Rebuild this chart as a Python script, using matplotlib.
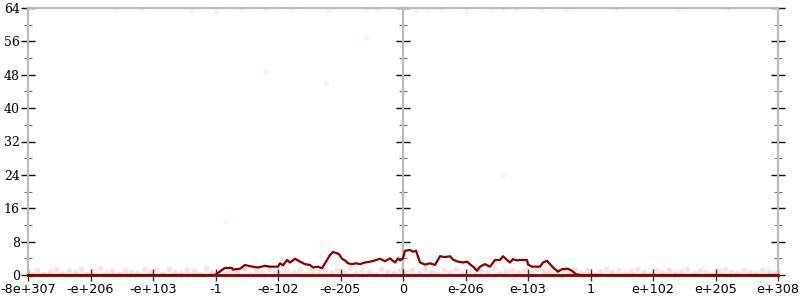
import matplotlib
matplotlib.use("Agg")
import matplotlib.pyplot as plt

# ---- data ----
tick_labels = ["-8e+307", "-e+206", "-e+103", "-1", "-e-102", "-e-205", "0",
               "e-206", "e-103", "1", "e+102", "e+205", "e+308"]
tick_pos = list(range(-6, 7))

line_u = [-6.0, -3.008, -2.896, -2.848, -2.736, -2.72, -2.608, -2.528, -2.448, -2.32,
          -2.208, -2.128, -2.0, -1.968, -1.92, -1.856, -1.808, -1.728, -1.648, -1.568,
          -1.488, -1.44, -1.36, -1.296, -1.248, -1.168, -1.12, -1.072, -1.024, -0.976,
          -0.928, -0.88, -0.816, -0.752, -0.688, -0.608, -0.528, -0.448, -0.368, -0.288,
          -0.208, -0.128, -0.08, -0.048, 0.0, 0.032, 0.112, 0.16, 0.208, 0.272,
          0.352, 0.432, 0.512, 0.592, 0.672, 0.752, 0.8, 0.88, 0.96, 1.024,
          1.072, 1.136, 1.184, 1.232, 1.312, 1.392, 1.472, 1.552, 1.6, 1.664,
          1.712, 1.76, 1.824, 1.872, 1.984, 2.0, 2.064, 2.192, 2.24, 2.304,
          2.352, 2.4, 2.448, 2.48, 2.544, 2.64, 2.704, 2.768, 2.832, 6.0]
line_v = [0.0, 0.0, 1.2, 1.7, 1.7, 1.3, 1.5, 2.4, 2.1, 1.8,
          2.2, 2.0, 2.0, 2.8, 2.3, 3.6, 3.0, 3.9, 3.2, 2.6,
          2.4, 1.8, 2.0, 1.6, 2.8, 4.8, 5.5, 5.3, 5.0, 3.9,
          3.5, 2.8, 2.6, 2.8, 2.6, 3.0, 3.2, 3.5, 3.9, 3.3,
          4.0, 3.0, 4.0, 3.5, 4.0, 5.8, 6.0, 5.6, 5.8, 3.0,
          2.5, 2.8, 2.4, 4.5, 4.3, 4.5, 3.7, 3.2, 3.0, 3.2,
          2.6, 1.8, 1.0, 2.0, 2.6, 2.0, 3.6, 3.6, 4.5, 3.6,
          3.0, 3.8, 3.5, 3.6, 3.6, 2.5, 2.0, 2.0, 3.0, 3.4,
          2.6, 1.8, 1.2, 0.8, 1.4, 1.5, 1.0, 0.2, 0.0, 0.0]

# faint sample points near the floor
floor_u = [-5.95, -5.85, -5.75, -5.65, -5.55, -5.45, -5.35, -5.25, -5.15, -5.05,
           -4.95, -4.85, -4.75, -4.65, -4.55, -4.45, -4.35, -4.25, -4.15, -4.05,
           -3.95, -3.85, -3.75, -3.65, -3.55, -3.45, -3.35, -3.25, -3.15, -3.05,
           -2.95, -2.85, -2.75, -2.65, -2.55, -2.45, -2.35, -2.25, -2.15, -2.05,
           -1.95, -1.85, -1.75, -1.65, -1.55, -1.45, -1.35, -1.25, -1.15, -1.05,
           -0.95, -0.85, -0.75, -0.65, -0.55, -0.45, -0.35, -0.25, -0.15, -0.05,
           0.05, 0.15, 0.25, 0.35, 0.45, 0.55, 0.65, 0.75, 0.85, 0.95,
           1.05, 1.15, 1.25, 1.35, 1.45, 1.55, 1.65, 1.75, 1.85, 1.95,
           2.05, 2.15, 2.25, 2.35, 2.45, 2.55, 2.65, 2.75, 2.85, 2.95,
           3.05, 3.15, 3.25, 3.35, 3.45, 3.55, 3.65, 3.75, 3.85, 3.95,
           4.05, 4.15, 4.25, 4.35, 4.45, 4.55, 4.65, 4.75, 4.85, 4.95,
           5.05, 5.15, 5.25, 5.35, 5.45, 5.55, 5.65, 5.75, 5.85, 5.95]
floor_v = [0.5, 1.2, 0.3, 0.9, 1.5, 0.4, 1.1, 0.7, 1.4, 0.3,
           0.9, 1.6, 0.5, 1.0, 0.3, 1.3, 0.8, 0.4, 1.5, 0.6,
           1.1, 0.3, 1.4, 0.7, 0.5, 1.2, 0.9, 0.3, 1.6, 0.6,
           1.0, 0.4, 1.3, 0.8, 1.5, 0.3, 1.1, 0.6, 1.4, 0.9,
           0.4, 1.2, 0.7, 1.5, 0.3, 1.0, 0.6, 1.3, 0.5, 1.1,
           0.8, 1.6, 0.4, 1.2, 0.7, 0.3, 1.4, 0.9, 0.5, 1.1,
           0.6, 1.3, 0.4, 1.5, 0.8, 0.3, 1.1, 0.7, 1.4, 0.5,
           1.0, 0.3, 1.2, 0.8, 1.6, 0.4, 0.9, 1.3, 0.6, 1.1,
           0.4, 1.5, 0.7, 1.0, 0.3, 1.2, 0.8, 1.4, 0.5, 1.1,
           0.3, 0.9, 1.5, 0.6, 1.2, 0.4, 1.0, 1.4, 0.7, 0.3,
           1.1, 0.6, 1.3, 0.4, 0.9, 1.5, 0.5, 1.2, 0.8, 0.3,
           1.0, 1.4, 0.6, 0.4, 1.2, 0.8, 0.5, 1.1, 0.7, 0.4]

# faint sample points that escaped the floor
high_u = [-4.6, -4.2, -3.4, -2.6, -1.8, -0.6, 0.4, 1.6, 2.6, 3.4, 4.4, 5.2,
          -3.0, -2.2, -1.2, -0.4, 0.2, 0.6, 1.0, 1.4, 1.8, 2.2,
          -2.2, -1.24, -0.6, 1.6, -2.85]
high_v = [63.6, 63.8, 63.5, 63.7, 63.6, 63.8, 63.5, 63.7, 63.6, 63.8, 63.5, 63.7,
          63.4, 63.7, 63.6, 63.8, 63.5, 63.7, 63.4, 63.6, 63.8, 63.5,
          49.0, 46.0, 57.0, 24.0, 13.0]

# ---- plot ----
fig = plt.figure(figsize=(8, 3), dpi=100)
ax = fig.add_axes([28/800, 25/300, 750/800, 267/300])
ax.set_xlim(-6, 6)
ax.set_ylim(0, 64)

ax.scatter(floor_u, floor_v, s=16, color="#ff2020", alpha=0.14, linewidths=0,
           zorder=2, clip_on=False)
ax.scatter(high_u, high_v, s=14, color="#ff2020", alpha=0.07, linewidths=0,
           zorder=2, clip_on=False)
ax.plot(line_u, line_v, color="#8b0000", lw=1.6, zorder=3, clip_on=False)

grey = "#bbbbbb"
for s in ["left", "right", "top"]:
    ax.spines[s].set_color(grey)
    ax.spines[s].set_linewidth(1.6)
ax.spines["bottom"].set_color("#8b0000")
ax.spines["bottom"].set_linewidth(2.0)

ax.set_yticks(range(0, 65, 8))
ax.set_yticks(range(4, 64, 8), minor=True)
ax.set_xticks(tick_pos)
ax.set_xticklabels(tick_labels, fontsize=9.2, family="DejaVu Sans")
for lbl in ax.get_yticklabels():
    lbl.set_family("DejaVu Serif")
    lbl.set_fontsize(9)
ax.tick_params(axis="y", which="major", direction="inout", length=10, width=1.0,
               color="#111111", left=True, right=True, pad=1)
ax.tick_params(axis="y", which="minor", direction="inout", length=6, width=0.8,
               color="#777777", left=True, right=True)
ax.tick_params(axis="x", which="major", direction="inout", length=8, width=1.0,
               color="#333333", pad=2)

# middle axis at x = 0
mid = ax.inset_axes([0.5, 0, 0.0001, 1])
mid.set_ylim(0, 64)
mid.patch.set_visible(False)
for s in ["right", "top", "bottom"]:
    mid.spines[s].set_visible(False)
mid.spines["left"].set_color(grey)
mid.spines["left"].set_linewidth(1.6)
mid.set_xticks([])
mid.set_yticks(range(0, 65, 8))
mid.set_yticks(range(4, 64, 8), minor=True)
mid.set_yticklabels([])
mid.tick_params(axis="y", which="major", direction="inout", length=10, width=1.0,
                color="#111111")
mid.tick_params(axis="y", which="minor", direction="inout", length=6, width=0.8,
                color="#777777")
mid.set_zorder(1)
ax.set_zorder(2)
ax.patch.set_visible(False)

fig.savefig("out.png", dpi=100)
